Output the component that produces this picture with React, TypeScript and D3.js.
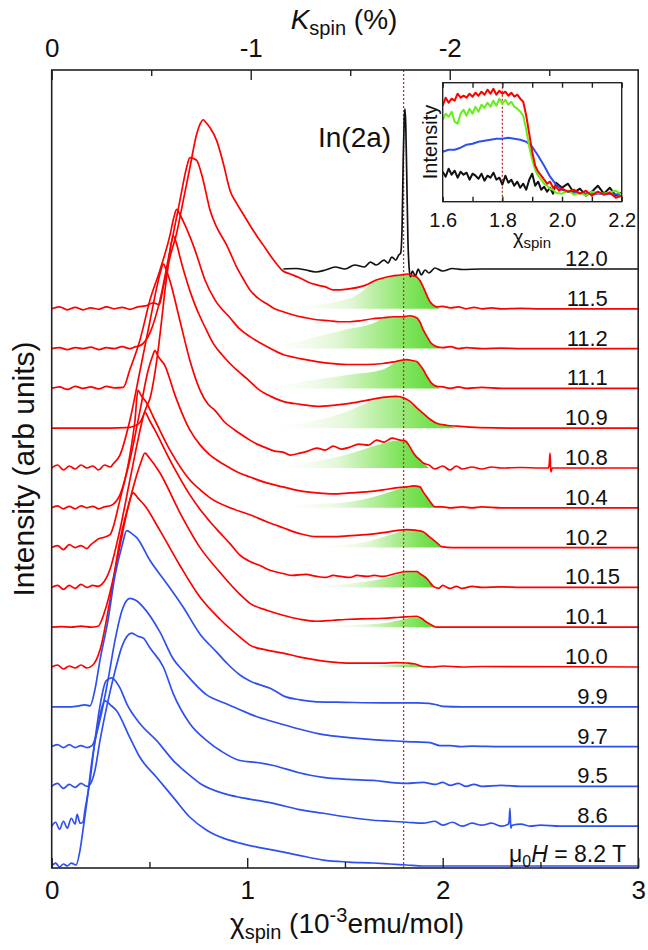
import React, { useEffect, useRef } from "react";
import * as d3 from "d3";

type Pt = [number, number];

// field labels, top trace first
const fields = ["12.0", "11.5", "11.2", "11.1", "10.9", "10.8", "10.4", "10.2", "10.15", "10.1", "10.0", "9.9", "9.7", "9.5", "8.6", "8.2"];

// spectra: [chi_spin, intensity above own baseline] (arb units)
const t120: Pt[] = [[1.185,0],[1.25,0.5],[1.3,-1],[1.35,-3],[1.4,-1],[1.45,2],[1.5,0],[1.55,4],[1.6,2],[1.63,7],[1.66,4],[1.7,9],[1.72,6],[1.74,12],[1.76,9],[1.775,14],[1.785,16],[1.792,40],[1.798,110],[1.803,150],[1.807,161],[1.811,145],[1.816,95],[1.822,30],[1.828,2],[1.835,-8],[1.845,-2],[1.86,-7],[1.875,0],[1.89,-6],[1.91,-1],[1.93,-4],[1.96,1],[2.0,-2],[2.05,0.5],[2.1,-0.5],[2.2,0],[3,0]];
const t115: Pt[] = [[0,0],[0.04,2],[0.08,-1],[0.12,1.5],[0.16,-1],[0.2,1],[0.24,-0.5],[0.28,2],[0.32,0],[0.36,1.5],[0.4,-0.5],[0.44,2],[0.48,3],[0.52,6],[0.55,4],[0.571,22],[0.605,52],[0.639,76],[0.673,109],[0.707,142],[0.742,176],[0.76,186],[0.775,190],[0.79,187],[0.81,182],[0.844,169],[0.878,146],[0.912,119],[0.946,106],[0.98,95],[1.014,84],[1.05,73],[1.082,64],[1.12,53],[1.151,45],[1.183,38],[1.22,35],[1.27,31],[1.31,27],[1.356,24],[1.4,22],[1.44,19],[1.475,19],[1.52,20],[1.577,22],[1.62,25],[1.66,29],[1.695,31],[1.74,33],[1.782,34],[1.82,35],[1.85,33],[1.867,32],[1.885,28],[1.9,22],[1.92,13],[1.935,7],[1.95,4],[1.969,2],[2.0,2.5],[2.04,1],[2.08,2],[2.12,0],[2.16,1.5],[2.2,0],[2.25,1],[2.3,0],[2.4,0.5],[2.5,0],[3,0]];
const t112: Pt[] = [[0,0],[0.04,1],[0.08,-1],[0.12,1],[0.16,0],[0.2,1.5],[0.24,-1],[0.28,1],[0.32,0],[0.36,2],[0.4,0],[0.43,2],[0.452,3],[0.503,16],[0.554,49],[0.605,99],[0.656,149],[0.69,182],[0.707,192],[0.725,191],[0.742,189],[0.775,169],[0.81,139],[0.844,122],[0.895,104],[0.946,82],[0.98,70],[1.014,59],[1.06,50],[1.1,45],[1.14,40],[1.185,37],[1.25,33],[1.3,31],[1.356,29],[1.42,28],[1.47,27],[1.526,27],[1.58,28],[1.64,30],[1.695,31],[1.75,32],[1.797,32],[1.83,33],[1.867,31],[1.885,26],[1.9,19],[1.92,12],[1.935,7],[1.95,4],[1.969,2],[2.0,1],[2.04,2],[2.08,0],[2.12,1],[2.2,0],[2.3,0.5],[2.4,0],[3,0]];
const t111: Pt[] = [[0,0],[0.04,1.5],[0.08,-1],[0.12,2],[0.16,0],[0.2,1.5],[0.24,-0.5],[0.28,2],[0.32,0.5],[0.366,1],[0.4,19],[0.452,49],[0.503,89],[0.554,119],[0.605,154],[0.625,172],[0.639,180],[0.655,175],[0.682,164],[0.733,139],[0.784,109],[0.835,89],[0.912,71],[0.96,60],[1.014,52],[1.1,42],[1.183,34],[1.27,30],[1.356,27],[1.44,25],[1.526,24],[1.61,24],[1.695,25],[1.76,27],[1.816,29],[1.845,28],[1.867,27],[1.885,23],[1.9,19],[1.92,12],[1.944,5],[1.969,2],[2.0,1.5],[2.04,0],[2.08,1.5],[2.12,0],[2.2,1],[2.3,0],[3,0]];
const t109: Pt[] = [[0,0],[0.1,0],[0.2,0],[0.3,0],[0.38,0.5],[0.42,2],[0.452,6],[0.486,22],[0.503,30],[0.525,52],[0.544,78],[0.562,108],[0.579,138],[0.595,162],[0.605,178],[0.622,193],[0.638,186],[0.656,172],[0.68,155],[0.707,138],[0.733,124],[0.759,112],[0.793,98],[0.827,85],[0.87,74],[0.912,65],[0.955,57],[0.997,50],[1.065,38],[1.12,32],[1.183,27],[1.27,24],[1.356,22],[1.44,23],[1.526,25],[1.61,28],[1.695,31],[1.765,32],[1.8,30.5],[1.833,27],[1.865,21],[1.9,15],[1.935,9],[1.969,5],[2.02,3],[2.072,2],[2.19,0.5],[2.4,0],[3,0]];
const t108: Pt[] = [[0,0],[0.03,3],[0.06,-2],[0.09,2],[0.12,-1],[0.15,3],[0.18,0],[0.21,2],[0.24,-2],[0.27,3],[0.3,1],[0.314,4],[0.349,13],[0.4,48],[0.452,98],[0.503,148],[0.539,183],[0.555,196],[0.571,205],[0.588,198],[0.605,188],[0.656,148],[0.707,108],[0.759,78],[0.8,64],[0.835,58],[0.88,47],[0.938,38],[0.975,33],[1.014,28],[1.05,24],[1.1,20],[1.14,17],[1.183,16],[1.22,13],[1.27,15],[1.31,17],[1.356,20],[1.4,18],[1.44,22],[1.48,19],[1.526,21],[1.57,24],[1.62,23],[1.662,28],[1.7,26],[1.74,30],[1.782,28],[1.81,27],[1.833,21],[1.85,15],[1.867,11],[1.885,8],[1.9,5],[1.93,3],[1.96,-1],[2.0,2],[2.037,-2],[2.07,2],[2.1,-1],[2.15,1],[2.2,-1],[2.25,1],[2.3,0],[2.4,0.5],[2.5,0],[2.54,0],[2.545,4],[2.549,15],[2.553,-4],[2.56,0],[3,0]];
const t104: Pt[] = [[0,0],[0.03,2],[0.06,-1],[0.09,1.5],[0.12,-1],[0.15,2],[0.18,0],[0.21,1.5],[0.24,-1],[0.27,1],[0.3,2],[0.349,13],[0.4,48],[0.452,98],[0.493,138],[0.515,152],[0.528,158],[0.545,152],[0.579,143],[0.631,113],[0.707,78],[0.76,63],[0.81,53],[0.86,46],[0.912,40],[0.96,35],[1.014,31],[1.1,25],[1.183,21],[1.27,17],[1.356,15],[1.44,14],[1.526,15],[1.61,16],[1.695,18],[1.76,20],[1.816,21],[1.85,22],[1.884,21],[1.9,16],[1.918,11],[1.94,5],[1.96,1],[2.0,1],[2.04,0],[2.1,1],[2.15,0],[2.2,1],[2.3,0],[3,0]];
const t102: Pt[] = [[0,0],[0.03,2],[0.06,-2],[0.09,3],[0.12,0],[0.15,2],[0.18,-1],[0.2,3],[0.22,6],[0.24,9],[0.262,10],[0.298,13],[0.349,48],[0.4,93],[0.426,128],[0.441,158],[0.46,152],[0.477,148],[0.528,128],[0.605,98],[0.707,68],[0.76,58],[0.81,50],[0.912,40],[1.014,33],[1.1,26],[1.183,20],[1.27,14],[1.356,11],[1.44,11],[1.526,12],[1.61,13],[1.695,15],[1.76,17],[1.816,18],[1.86,17.5],[1.9,16],[1.925,12],[1.95,8],[1.975,4],[1.995,1],[2.05,0],[3,0]];
const t1015: Pt[] = [[0,0],[0.03,2],[0.06,-2],[0.09,2],[0.12,-1],[0.15,3],[0.18,0],[0.21,2],[0.237,1],[0.256,3],[0.298,18],[0.349,58],[0.4,108],[0.441,148],[0.46,165],[0.477,176],[0.5,168],[0.528,158],[0.605,128],[0.707,93],[0.76,78],[0.81,66],[0.86,55],[0.912,44],[0.96,33],[1.014,26],[1.065,22],[1.12,17],[1.183,14],[1.23,12],[1.3,13],[1.356,11],[1.4,10],[1.44,12],[1.48,11],[1.526,10],[1.56,12],[1.61,11],[1.65,12],[1.695,11],[1.76,14],[1.816,16],[1.867,16],[1.89,13],[1.918,9],[1.935,5],[1.952,1],[1.98,-1],[2.0,2],[2.037,-1],[2.07,1],[2.1,-1],[2.15,1],[2.2,0],[2.3,0.5],[2.4,0],[3,0]];
const t101: Pt[] = [[0,0],[0.05,0.5],[0.1,0],[0.15,1],[0.2,0],[0.237,1],[0.273,17],[0.324,57],[0.375,107],[0.426,147],[0.455,165],[0.477,175],[0.5,170],[0.554,155],[0.656,115],[0.759,80],[0.861,55],[0.963,33],[1.014,24],[1.1,17],[1.183,12],[1.27,8],[1.356,6],[1.44,7],[1.526,8],[1.61,8.5],[1.695,9],[1.78,10],[1.867,11],[1.89,9],[1.918,5],[1.945,2],[1.969,0],[3,0]];
const t100: Pt[] = [[0,0],[0.03,2],[0.06,-2],[0.09,1],[0.12,-1],[0.15,2],[0.18,-1],[0.211,2],[0.247,17],[0.298,67],[0.349,127],[0.385,157],[0.417,175],[0.44,170],[0.477,162],[0.554,137],[0.656,102],[0.759,70],[0.861,48],[0.963,30],[1.014,22],[1.1,17],[1.183,14],[1.27,10],[1.356,7],[1.44,5],[1.526,4],[1.61,4],[1.695,4],[1.76,4.5],[1.816,4],[1.86,3],[1.9,0.5],[1.95,0],[2.0,1],[2.1,0],[2.2,0.5],[3,0]];
const t99: Pt[] = [[0,0],[0.1,0],[0.14,1],[0.17,2],[0.196,1],[0.221,17],[0.247,47],[0.288,87],[0.324,132],[0.36,162],[0.384,177],[0.41,174],[0.435,170],[0.503,147],[0.588,124],[0.673,100],[0.759,73],[0.844,55],[0.9,43],[0.963,32],[1.014,26],[1.134,17],[1.185,11],[1.27,7],[1.356,5],[1.5,4.5],[1.695,4],[1.867,4],[1.93,3.5],[1.97,2],[2.0,0.5],[2.1,0],[3,0]];
const t97: Pt[] = [[0,0],[0.03,2],[0.06,-1],[0.09,2],[0.12,-1],[0.15,1],[0.18,-1],[0.206,1],[0.247,27],[0.288,67],[0.324,107],[0.36,137],[0.4,149],[0.43,147],[0.469,140],[0.554,115],[0.622,88],[0.673,76],[0.793,52],[0.88,44],[0.963,37],[1.05,30],[1.134,25],[1.26,18],[1.389,12],[1.52,9],[1.643,7],[1.73,6],[1.816,5],[1.935,4],[1.986,1],[2.04,1],[2.09,0],[2.15,0.5],[2.3,0],[3,0]];
const t95: Pt[] = [[0,0],[0.03,3],[0.06,-2],[0.09,2],[0.12,-1],[0.15,3],[0.18,0],[0.196,2],[0.221,16],[0.247,46],[0.288,86],[0.324,116],[0.36,141],[0.409,154],[0.44,151],[0.469,149],[0.503,139],[0.571,120],[0.622,93],[0.707,63],[0.793,46],[0.87,35],[0.963,26],[1.05,24],[1.134,21],[1.26,14],[1.389,9],[1.52,7],[1.645,6],[1.73,4],[1.816,3],[1.9,4],[1.96,2],[2.0,4],[2.04,1],[2.08,3],[2.12,0],[2.16,2],[2.2,0],[2.3,1],[2.4,0],[3,0]];
const t86: Pt[] = [[0,0],[0.02,4],[0.04,-3],[0.06,5],[0.08,-2],[0.1,8],[0.12,2],[0.13,12],[0.145,3],[0.16,4],[0.17,16],[0.196,46],[0.221,86],[0.247,121],[0.278,146],[0.307,149],[0.33,145],[0.349,139],[0.384,123],[0.452,103],[0.537,86],[0.622,66],[0.7,52],[0.759,43],[0.878,33],[0.963,29],[1.05,26],[1.134,23],[1.26,17],[1.389,13],[1.52,9],[1.645,6],[1.73,5],[1.816,4],[1.9,3],[1.96,5],[2.0,1],[2.05,4],[2.1,0],[2.15,3],[2.2,1],[2.25,3],[2.3,0],[2.335,2],[2.34,6],[2.344,18],[2.348,-2],[2.355,1],[2.4,2],[2.45,0],[2.5,1],[2.6,0],[3,0]];
const t82: Pt[] = [[0,0],[0.02,3],[0.04,-1],[0.06,2],[0.08,0],[0.1,3],[0.124,1],[0.145,16],[0.16,36],[0.181,66],[0.206,106],[0.232,136],[0.273,166],[0.3,162],[0.332,156],[0.4,129],[0.452,109],[0.537,89],[0.622,69],[0.707,49],[0.793,36],[0.878,28],[0.963,23],[1.05,19],[1.134,16],[1.26,11],[1.389,6],[1.52,4],[1.645,3],[1.73,2],[1.816,1],[1.9,0],[3,0]];

const spectra: Pt[][] = [t120, t115, t112, t111, t109, t108, t104, t102, t1015, t101, t100, t99, t97, t95, t86, t82];

// shaded high-chi component under the red spectra
const g115: Pt[] = [[1.151,0],[1.3,3],[1.458,7],[1.577,16],[1.62,23],[1.66,29],[1.695,31],[1.74,33],[1.782,34],[1.82,35],[1.85,33],[1.867,32],[1.885,28],[1.9,22],[1.92,13],[1.935,7],[1.95,4],[1.969,2],[1.985,0]];
const g112: Pt[] = [[1.014,0],[1.2,5],[1.356,12],[1.5,19],[1.662,27],[1.695,31],[1.75,32],[1.797,32],[1.83,33],[1.867,31],[1.885,26],[1.9,19],[1.92,12],[1.935,7],[1.95,4],[1.969,2],[1.985,0]];
const g111: Pt[] = [[1.014,0],[1.2,4],[1.356,9],[1.53,14],[1.695,19],[1.76,26],[1.816,29],[1.845,28],[1.867,27],[1.885,23],[1.9,19],[1.92,12],[1.944,5],[1.969,2],[1.985,0]];
const g109: Pt[] = [[1.065,0],[1.2,3],[1.356,8],[1.526,18],[1.61,25],[1.695,31],[1.765,32],[1.8,30.5],[1.833,27],[1.865,21],[1.9,15],[1.935,9],[1.969,5],[2.02,3],[2.072,0]];
const g108: Pt[] = [[1.081,0],[1.25,4],[1.439,10],[1.57,17],[1.662,23],[1.7,25],[1.74,27],[1.782,28],[1.81,27],[1.833,21],[1.85,15],[1.867,11],[1.885,8],[1.9,5],[1.93,0]];
const g104: Pt[] = [[1.117,0],[1.3,3],[1.526,6],[1.65,11],[1.73,16],[1.776,19],[1.816,21],[1.85,22],[1.884,21],[1.9,16],[1.918,11],[1.94,5],[1.96,0]];
const g102: Pt[] = [[1.321,0],[1.45,2],[1.611,6],[1.7,11],[1.782,16],[1.816,18],[1.86,17.5],[1.9,16],[1.925,12],[1.95,8],[1.975,4],[1.995,0]];
const g1015: Pt[] = [[1.236,0],[1.4,2],[1.611,6],[1.72,10],[1.782,14],[1.816,16],[1.867,16],[1.89,13],[1.918,9],[1.935,5],[1.952,0]];
const g101: Pt[] = [[1.321,0],[1.5,2],[1.695,4],[1.78,7],[1.867,10],[1.89,9],[1.918,5],[1.945,2],[1.969,0]];
const g100: Pt[] = [[1.475,0],[1.65,1.5],[1.782,2.5],[1.84,3],[1.88,1.5],[1.93,0]];

const greenByField: Record<string, Pt[]> = {
  "11.5": g115, "11.2": g112, "11.1": g111, "10.9": g109, "10.8": g108,
  "10.4": g104, "10.2": g102, "10.15": g1015, "10.1": g101, "10.0": g100,
};

// inset: zoom of the high-chi edge
const insetRed: Pt[] = [[1.6,96],[1.61,104],[1.62,99],[1.63,103],[1.64,101],[1.65,108],[1.66,104],[1.67,106],[1.68,104],[1.69,108],[1.7,105],[1.71,109],[1.72,106],[1.73,110],[1.74,107],[1.75,112],[1.76,108],[1.77,113],[1.78,107],[1.79,111],[1.8,108],[1.81,110],[1.82,106],[1.83,109],[1.84,105],[1.85,107],[1.86,103],[1.87,100],[1.88,86],[1.89,68],[1.9,50],[1.91,36],[1.92,30],[1.93,26],[1.94,22],[1.95,18],[1.96,20],[1.97,14],[1.98,15],[1.99,11],[2.0,13],[2.02,10],[2.04,12],[2.06,8],[2.08,11],[2.1,6],[2.12,10],[2.14,7],[2.16,9],[2.18,4],[2.2,6]];
const insetGreen: Pt[] = [[1.6,82],[1.61,88],[1.62,85],[1.63,90],[1.64,80],[1.65,78],[1.66,88],[1.67,92],[1.68,86],[1.69,93],[1.7,88],[1.71,95],[1.72,90],[1.73,97],[1.74,94],[1.75,99],[1.76,95],[1.77,101],[1.78,96],[1.79,103],[1.8,98],[1.81,102],[1.82,97],[1.83,100],[1.84,95],[1.85,93],[1.86,90],[1.87,86],[1.88,72],[1.89,55],[1.9,42],[1.91,32],[1.92,26],[1.93,22],[1.94,18],[1.95,16],[1.96,13],[1.97,12],[1.98,9],[2.0,8],[2.02,11],[2.04,7],[2.06,9],[2.08,6],[2.1,10],[2.14,8],[2.18,11],[2.2,7]];
const insetBlue: Pt[] = [[1.6,50],[1.62,52],[1.64,52],[1.66,54],[1.68,57],[1.7,58],[1.72,60],[1.74,61],[1.76,62],[1.78,63],[1.8,63],[1.82,64],[1.84,63],[1.86,62],[1.88,60],[1.9,55],[1.92,46],[1.94,36],[1.96,25],[1.98,17],[2.0,12],[2.02,10],[2.05,9],[2.1,8],[2.15,8],[2.2,7]];
const insetBlack: Pt[] = [[1.6,30],[1.61,25],[1.62,33],[1.63,27],[1.64,31],[1.65,24],[1.66,30],[1.67,27],[1.68,29],[1.69,22],[1.7,28],[1.71,26],[1.72,23],[1.73,28],[1.74,21],[1.75,26],[1.76,24],[1.77,29],[1.78,22],[1.79,24],[1.8,17],[1.81,26],[1.82,19],[1.83,22],[1.84,16],[1.85,20],[1.86,14],[1.87,18],[1.88,12],[1.89,22],[1.9,28],[1.91,16],[1.92,20],[1.93,12],[1.94,15],[1.95,10],[1.96,14],[1.97,8],[1.98,19],[2.0,14],[2.02,18],[2.04,9],[2.06,13],[2.08,6],[2.1,10],[2.12,16],[2.14,8],[2.16,14],[2.18,6],[2.2,9]];

const chiMajor = [0, 1, 2, 3];
const chiMinor = [0.5, 1.5, 2.5];
const kMajor = [0, -1, -2];
const kMinor = [-0.5, -1.5, -2.5];
const insetTicks = [1.6, 1.7, 1.8, 1.9, 2.0, 2.1, 2.2];
const insetLabels = [1.6, 1.8, 2.0, 2.2];
const lineChi = 1.8;

const FONT = "'Liberation Sans', Arial, Helvetica, sans-serif";
const DOT = "#b8342a";

const traceColor = (f: string) => {
  const v = +f;
  if (v >= 12) return "#111111";
  if (v >= 10) return "#ff0000";
  return "#2e50f0";
};

const App: React.FC = () => {
  const chartRef = useRef<SVGSVGElement | null>(null);

  useEffect(() => {
    const svg = d3.select(chartRef.current);
    svg.selectAll("*").remove();

    const left = 51.7, right = 638.2, top = 70, bottom = 868;
    const step = 40;
    const x = d3.scaleLinear().domain([0, 3]).range([left, right]);
    const y = d3.scaleLinear().domain([-2, 800]).range([bottom, top]);
    const xK = d3.scaleLinear().domain([0, -3 / 1.018]).range([left, right]);

    const defs = svg.append("defs");
    const grad = defs.append("linearGradient").attr("id", "greenFade")
      .attr("x1", 0).attr("x2", 1).attr("y1", 0).attr("y2", 0);
    grad.append("stop").attr("offset", "0").attr("stop-color", "#ffffff").attr("stop-opacity", 0);
    grad.append("stop").attr("offset", "0.45").attr("stop-color", "#e2f7d6");
    grad.append("stop").attr("offset", "0.8").attr("stop-color", "#86e562");
    grad.append("stop").attr("offset", "1").attr("stop-color", "#5ad838");
    defs.append("clipPath").attr("id", "plotClip").append("rect")
      .attr("x", left).attr("y", top).attr("width", right - left).attr("height", bottom - top);

    const plot = svg.append("g").attr("clip-path", "url(#plotClip)");
    const n = fields.length;

    fields.forEach((f, i) => {
      const off = (n - 1 - i) * step;
      const g = greenByField[f];
      if (!g) return;
      const area = d3.area<Pt>().x((d) => x(d[0])).y0(y(off)).y1((d) => y(off + d[1])).curve(d3.curveMonotoneX);
      plot.append("path").datum(g).attr("d", area).attr("fill", "url(#greenFade)");
    });

    plot.append("line").attr("x1", x(lineChi)).attr("x2", x(lineChi)).attr("y1", top).attr("y2", bottom)
      .attr("stroke", DOT).attr("stroke-width", 1.3).attr("stroke-dasharray", "2,2");

    fields.forEach((f, i) => {
      const off = (n - 1 - i) * step;
      const line = d3.line<Pt>().x((d) => x(d[0])).y((d) => y(off + d[1])).curve(d3.curveMonotoneX);
      plot.append("path").datum(spectra[i]).attr("d", line).attr("fill", "none")
        .attr("stroke", traceColor(f)).attr("stroke-width", 1.7).attr("stroke-linejoin", "round");
    });

    // field labels, aligned on the decimal point; the lowest one carries the full caption
    const labels = svg.append("g").attr("font-family", FONT).attr("font-size", 22).attr("fill", "#111");
    fields.forEach((f, i) => {
      const off = (n - 1 - i) * step;
      if (i === n - 1) {
        const t = labels.append("text").attr("x", 509).attr("y", y(off) - 4).attr("font-size", 23);
        t.append("tspan").text("μ");
        t.append("tspan").attr("font-size", 16).attr("dy", 5).text("0");
        t.append("tspan").attr("font-style", "italic").attr("dy", -5).text("H");
        t.append("tspan").text(` = ${f} T`);
        return;
      }
      const [a, b] = f.split(".");
      labels.append("text").attr("x", 589.5).attr("y", y(off) - 3).attr("text-anchor", "end").text(a);
      labels.append("text").attr("x", 589.5).attr("y", y(off) - 3).text("." + b);
    });

    svg.append("text").attr("x", 318).attr("y", 147).attr("font-family", FONT)
      .attr("font-size", 28).attr("fill", "#111").text("In(2a)");

    // axes
    const styleAxis = (g: d3.Selection<SVGGElement, unknown, null, undefined>, size: number) => {
      g.select(".domain").remove();
      g.selectAll("line").attr("stroke", "#222").attr("stroke-width", 1.4);
      g.selectAll("text").attr("font-family", FONT).attr("font-size", size).attr("fill", "#111");
    };
    svg.append("g").attr("transform", `translate(0,${bottom})`)
      .call(d3.axisBottom(x).tickValues(chiMajor).tickSize(-10).tickPadding(13).tickFormat((d) => String(d)))
      .call((g) => styleAxis(g, 26));
    svg.append("g").attr("transform", `translate(0,${bottom})`)
      .call(d3.axisBottom(x).tickValues(chiMinor).tickSize(-6).tickFormat(() => ""))
      .call((g) => styleAxis(g, 26));
    svg.append("g").attr("transform", `translate(0,${top})`)
      .call(d3.axisTop(xK).tickValues(kMajor).tickSize(-10).tickPadding(13).tickFormat((d) => String(d)))
      .call((g) => styleAxis(g, 26));
    svg.append("g").attr("transform", `translate(0,${top})`)
      .call(d3.axisTop(xK).tickValues(kMinor).tickSize(-6).tickFormat(() => ""))
      .call((g) => styleAxis(g, 26));

    svg.append("rect").attr("x", left).attr("y", top).attr("width", right - left).attr("height", bottom - top)
      .attr("fill", "none").attr("stroke", "#222").attr("stroke-width", 1.6);

    // axis titles
    const kTitle = svg.append("text").attr("x", 344).attr("y", 29).attr("text-anchor", "middle")
      .attr("font-family", FONT).attr("font-size", 28).attr("fill", "#111");
    kTitle.append("tspan").attr("font-style", "italic").text("K");
    kTitle.append("tspan").attr("font-size", 20).attr("dy", 6).text("spin");
    kTitle.append("tspan").attr("dy", -6).text(" (%)");

    const xTitle = svg.append("text").attr("x", 347).attr("y", 933).attr("text-anchor", "middle")
      .attr("font-family", FONT).attr("font-size", 28).attr("fill", "#111");
    xTitle.append("tspan").text("χ");
    xTitle.append("tspan").attr("font-size", 20).attr("dy", 6).text("spin");
    xTitle.append("tspan").attr("dy", -6).text(" (10");
    xTitle.append("tspan").attr("font-size", 20).attr("dy", -11).text("-3");
    xTitle.append("tspan").attr("dy", 11).text("emu/mol)");

    svg.append("text").attr("transform", "translate(34,469) rotate(-90)").attr("text-anchor", "middle")
      .attr("font-family", FONT).attr("font-size", 30).attr("fill", "#111").text("Intensity (arb units)");

    // inset
    const il = 442.7, ir = 621.7, it = 82.7, ib = 201.7;
    const ix = d3.scaleLinear().domain([1.6, 2.2]).range([il, ir]);
    const iy = d3.scaleLinear().domain([0, 119]).range([ib, it]);
    defs.append("clipPath").attr("id", "insetClip").append("rect")
      .attr("x", il).attr("y", it).attr("width", ir - il).attr("height", ib - it);
    svg.append("rect").attr("x", il).attr("y", it).attr("width", ir - il).attr("height", ib - it).attr("fill", "#fff");
    const inset = svg.append("g").attr("clip-path", "url(#insetClip)");
    inset.append("line").attr("x1", ix(lineChi)).attr("x2", ix(lineChi)).attr("y1", it).attr("y2", ib)
      .attr("stroke", DOT).attr("stroke-width", 1.3).attr("stroke-dasharray", "2,2");
    const iline = d3.line<Pt>().x((d) => ix(d[0])).y((d) => iy(d[1]));
    const insetSeries: [Pt[], string][] = [
      [insetBlack, "#111111"], [insetBlue, "#2e50f0"], [insetGreen, "#66ee1a"], [insetRed, "#ff0000"],
    ];
    insetSeries.forEach(([pts, c]) => {
      inset.append("path").datum(pts).attr("d", iline).attr("fill", "none")
        .attr("stroke", c).attr("stroke-width", 2).attr("stroke-linejoin", "round");
    });
    svg.append("g").attr("transform", `translate(0,${ib})`)
      .call(d3.axisBottom(ix).tickValues(insetTicks).tickSize(-5).tickPadding(11)
        .tickFormat((d) => (insetLabels.includes(+d) ? d3.format(".1f")(+d) : "")))
      .call((g) => styleAxis(g, 20));
    svg.append("g").attr("transform", `translate(0,${it})`)
      .call(d3.axisTop(ix).tickValues(insetTicks).tickSize(-5).tickFormat(() => ""))
      .call((g) => styleAxis(g, 20));
    svg.append("rect").attr("x", il).attr("y", it).attr("width", ir - il).attr("height", ib - it)
      .attr("fill", "none").attr("stroke", "#222").attr("stroke-width", 1.4);

    const iTitle = svg.append("text").attr("x", 532).attr("y", 244).attr("text-anchor", "middle")
      .attr("font-family", FONT).attr("font-size", 20).attr("fill", "#111");
    iTitle.append("tspan").text("χ");
    iTitle.append("tspan").attr("font-size", 15).attr("dy", 4).text("spin");
    svg.append("text").attr("transform", "translate(437,142) rotate(-90)").attr("text-anchor", "middle")
      .attr("font-family", FONT).attr("font-size", 20).attr("fill", "#111").text("Intensity");
  }, []);

  return (
    <div style={{ position: "absolute", left: 0, top: 0 }}>
      <svg ref={chartRef} width={648} height={950} style={{ display: "block", background: "#fff" }}></svg>
    </div>
  );
};

export default App;
